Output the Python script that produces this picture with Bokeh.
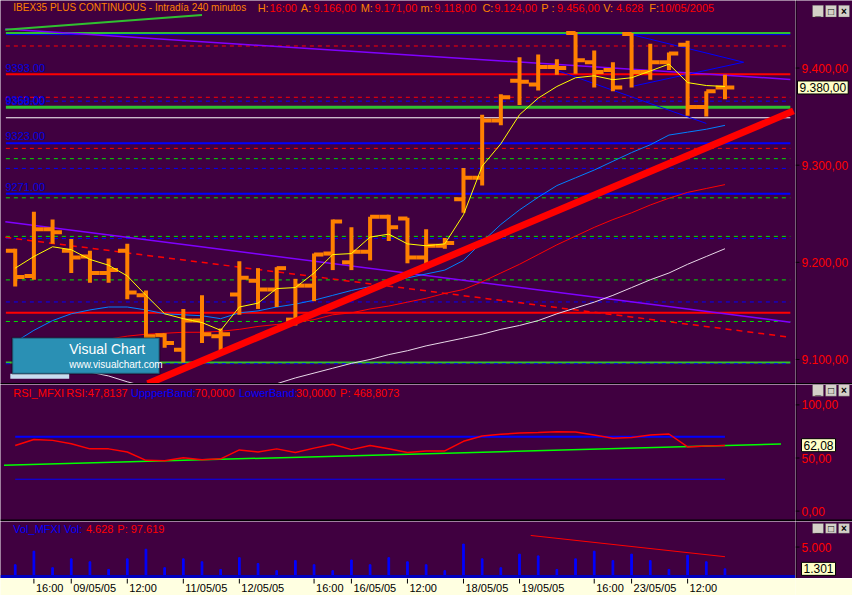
from bokeh.plotting import figure
from bokeh.layouts import column, row
from bokeh.models import Range1d, Label, BoxAnnotation, Span
from bokeh.core.properties import value
from bokeh.embed import file_html
from bokeh.resources import INLINE

NaN = float("nan")

# ---------------- data ----------------
bars = list(range(39))
opens = [9212, 9186, 9234, 9212, 9206, 9189, 9212, 9166, 9125, 9110, 9140, 9124, 9167, 9181, 9172, 9141,
         9176, 9209, 9200, 9211, 9247, 9245, 9205, 9217, 9265, 9287, 9346, 9387, 9383, 9401, 9436, 9406,
         9398, 9435, 9396, 9406, 9424, 9360, 9380]
highs = [9214, 9252, 9244, 9224, 9212, 9204, 9219, 9171, 9127, 9152, 9166, 9132, 9201, 9194, 9195, 9183,
         9209, 9244, 9236, 9247, 9249, 9246, 9234, 9225, 9297, 9352, 9373, 9411, 9414, 9409, 9437, 9418,
         9406, 9436, 9425, 9416, 9428, 9376, 9393]
lows = [9175, 9182, 9219, 9189, 9179, 9179, 9162, 9118, 9112, 9097, 9117, 9105, 9146, 9152, 9154, 9135,
        9160, 9192, 9192, 9202, 9222, 9199, 9194, 9214, 9251, 9279, 9341, 9362, 9377, 9393, 9394, 9380,
        9376, 9380, 9388, 9398, 9351, 9350, 9368]
closes = [9185, 9234, 9231, 9205, 9189, 9192, 9169, 9124, 9117, 9140, 9126, 9126, 9184, 9172, 9194, 9176,
          9208, 9242, 9211, 9247, 9236, 9205, 9217, 9220, 9287, 9346, 9370, 9386, 9401, 9400, 9408, 9396,
          9380, 9396, 9406, 9415, 9360, 9376, 9380]

ma_fast = [9194, 9206, 9216, 9213, 9203, 9197, 9186, 9166, 9147, 9142, 9138, 9130, 9154, 9158, 9173, 9174,
           9189, 9208, 9209, 9226, 9229, 9219, 9217, 9219, 9249, 9299, 9322, 9352, 9369, 9381, 9390, 9392,
           9388, 9390, 9397, 9404, 9385, 9382, 9381]
ma_mid = [9118, 9130, 9140, 9147, 9151, 9154, 9154, 9151, 9147, 9146, 9145, 9142, 9148, 9150, 9154, 9157,
          9161, 9166, 9171, 9175, 9180, 9184, 9188, 9192, 9202, 9221, 9239, 9254, 9267, 9279, 9287, 9295,
          9304, 9313, 9321, 9331, 9334, 9337, 9341]
ma_slow = [NaN, NaN, NaN, 9110, 9116, 9121, 9124, 9126, 9127, 9128, 9128, 9129, 9131, 9134, 9136, 9138,
           9141, 9146, 9148, 9152, 9155, 9159, 9163, 9168, 9172, 9180, 9189, 9198, 9208, 9218, 9227, 9236,
           9244, 9251, 9259, 9266, 9272, 9276, 9280]
ma_long = [NaN, NaN, NaN, NaN, 9087, 9083, 9077, 9072, 9068, 9065, 9063, 9063, 9065, 9068, 9075, 9081,
           9086, 9091, 9096, 9100, 9105, 9109, 9114, 9118, 9122, 9126, 9131, 9135, 9140, 9147, 9153, 9159,
           9166, 9174, 9182, 9189, 9198, 9206, 9214]

rsi = [61.8, 67.5, 66.6, 63.4, 58.6, 58.6, 55.6, 47.8, 47.4, 50.3, 48.3, 49.2, 57.6, 55.6, 58.6, 55.2,
       59.3, 62.9, 57.9, 61.8, 58.8, 55.2, 56.7, 56.7, 65.7, 70.7, 72.3, 73.5, 74.1, 74.8, 74.4, 71.6,
       68.6, 69.4, 71.6, 72.6, 60.4, 61.3, 61.8]
rsi_upper = 70
rsi_lower = 30
rsi_trend_x = [-0.6, 41.0]
rsi_trend_y = [43.2, 63.2]

volume = [2000, 4300, 1500, 3000, 2500, 1200, 3000, 4628, 1500, 3000, 2500, 1200, 3200, 2200, 1000, 2700,
          2000, 1000, 2800, 2000, 3200, 2500, 2000, 1000, 5500, 3000, 1500, 3800, 3500, 1200, 3000, 4300,
          2700, 3800, 2700, 1200, 3600, 2500, 1301]
vol_trend_x = [27.6, 38.0]
vol_trend_y = [6967, 3361]

# horizontal support / resistance levels
level_prices = [9436.1, 9434.4, 9422.7, 9393.6, 9369.9, 9365.9, 9359.7, 9348.8, 9322.5, 9317.3, 9306.7,
                9296.7, 9270.6, 9266.4, 9226.7, 9224.5, 9181.9, 9159.2, 9148.0, 9139.1, 9097.0, 9095.6]
level_colors = ["#30c030", "#0000ff", "#ff0000", "#ff0000", "#ff0000", "#0000ff", "#30c030", "#ffffff",
                "#0000ff", "#ff0000", "#00e000", "#0000ff", "#0000ff", "#00e000", "#00e000", "#0000ff",
                "#00e000", "#0000ff", "#ff0000", "#00e000", "#30c030", "#0000ff"]
level_dashes = ["solid", "solid", "4 4", "solid", "4 4", "4 4", "solid", "solid", "solid", "4 4", "4 4",
                "4 4", "solid", "4 4", "4 4", "4 4", "4 4", "4 4", "solid", "4 4", "solid", "4 4"]
level_widths = [2, 1, 1, 2, 1, 1, 3, 1, 2, 1, 1, 1, 2, 1, 1, 1, 1, 1, 2, 1, 2, 1]
level_tags = ["9393.00", "9360.00", "9358.00", "9323.00", "9271.00"]
level_tag_prices = [9400.5, 9367, 9366, 9330, 9278]

# drawn trend lines (bar index, price)
trend_x0 = [-0.53, -0.53, -0.53, -0.53, 33.0, 33.0, 29.0]
trend_y0 = [9440.1, 9241.8, 9225.7, 9439.4, 9434.4, 9381.0, 9397.6]
trend_x1 = [41.5, 41.5, 41.5, 10.0, 39.0, 39.0, 37.0]
trend_y1 = [9388.3, 9138.4, 9122.9, 9454.5, 9406.0, 9406.0, 9343.0]
trend_colors = ["#8000ff", "#8000ff", "#ff0000", "#30c030", "#0000ff", "#0000ff", "#0000ff"]
trend_dashes = ["solid", "solid", "6 5", "solid", "solid", "solid", "solid"]
trend_widths = [1.5, 1.5, 1.5, 2, 1, 1, 1]
support_x = [7.09, 41.67]
support_y = [9074.9, 9355.9]

xtick_idx = [1, 3, 6, 9, 12, 16, 18, 21, 24, 27, 31, 33, 36]
xtick_labels = ["16:00", "09/05/05", "12:00", "11/05/05", "12/05/05", "16:00", "16/05/05", "12:00",
                "18/05/05", "19/05/05", "16:00", "23/05/05", "12:00"]

price_ticks = [9100, 9200, 9300, 9400]
rsi_ticks = [0, 50, 100]
vol_ticks = [5000]
last_price = 9380
last_rsi = 62.08
last_vol = 1301

title_parts = ["IBEX35 PLUS CONTINUOUS - Intradía 240 minutos", "H:", "16:00", "A:", "9.166,00", "M:",
               "9.171,00", "m:", "9.118,00", "C:", "9.124,00", "P :", "9.456,00", "V:", "4.628", "F:",
               "10/05/2005"]
rsi_parts = ["RSI_MFXI", "RSI:", "47,8137", "UppperBand:", "70,0000", "LowerBand:", "30,0000", "P: 468,8073"]
vol_parts = ["Vol_MFXI Vol:", "4.628", "P: 97.619"]
button_glyphs = ["_", "□", "×"]

# ---------------- layout / style ----------------
BG = "#400040"
ORANGE = "#ff8000"
RED = "#ff0000"
BLUE = "#0000ff"
FONT = "Liberation Sans"
FW, AXW = 795, 57
H1, H2, H3, H4 = 384, 137, 57, 17

def rx(px):
    return (px - 15) / 19.03

def ry(py):
    return 9400 - (py - 69.3) * 1.0033

def rsy(py):
    return (524.3 - py) / 1.093

def vy(py):
    return (591 - py) * 5000 / 30.0

def fmt_es(v, dec):
    s = f"{v:,.{dec}f}"
    return s.replace(",", "X").replace(".", ",").replace("X", ".")

xr = Range1d(rx(0), rx(810))

def bottom_rule(p, conv, y_top, y_bot):
    p.add_layout(BoxAnnotation(top=conv(y_top), bottom=conv(y_bot), fill_color="black",
                               fill_alpha=1, line_color=None))

def make_fig(h, yr):
    p = figure(frame_width=FW, frame_height=h, x_range=xr, y_range=yr,
               output_backend="svg", toolbar_location=None,
               x_axis_location=None, y_axis_location=None, min_border=0,
               background_fill_color=BG, border_fill_color=BG, outline_line_color=None)
    p.grid.visible = False
    return p

def make_side(h, yr, ticks, labels, box_y, box_text, box_x, conv, btn_top, btn_bot):
    s = figure(frame_width=AXW, frame_height=h, x_range=Range1d(0, AXW), y_range=yr,
               output_backend="svg", toolbar_location=None,
               x_axis_location=None, y_axis_location=None, min_border=0,
               background_fill_color=BG, border_fill_color=BG, outline_line_color=None)
    s.grid.visible = False
    s.add_layout(Span(location=0.5, dimension="height", line_color="black", line_width=1))
    n = len(ticks)
    s.segment(x0=[0] * n, y0=ticks, x1=[4] * n, y1=ticks, line_color="black", line_width=1)
    s.text(x=[6] * n, y=ticks, text=labels, text_color=RED, text_font=value(FONT),
           text_font_size="12px", text_baseline="middle", text_align="left")
    s.add_layout(Label(x=box_x, y=box_y, text=box_text, text_font=FONT, text_font_size="12px",
                       text_color="black", text_baseline="middle", background_fill_color="#ffffc8",
                       border_line_color="black", padding=2))
    for k, g in enumerate(button_glyphs):
        left = 17 + 13 * k
        s.add_layout(BoxAnnotation(left=left, right=left + 11, top=conv(btn_top), bottom=conv(btn_bot),
                                   fill_color="#d4d0c8", fill_alpha=1, line_color="#404040", line_width=1))
        s.add_layout(Label(x=left + 5.5, y=conv((btn_top + btn_bot) / 2), text=g, text_font=FONT,
                           text_font_size="10px", text_font_style="bold", text_color="black",
                           text_align="center", text_baseline="middle"))
    return s

def header(p, parts, colors, xs, y, sizes):
    for t, c, x, fs in zip(parts, colors, xs, sizes):
        p.add_layout(Label(x=x, y=y, text=t, text_font=FONT, text_font_size=fs,
                           text_color=c, text_baseline="middle"))

# ---------- main price panel ----------
yr1 = Range1d(ry(394), ry(0))
p1 = make_fig(H1, yr1)

lx0, lx1 = bars[0] - 0.5, bars[-1] + 3.5
for lv, c, d, w in zip(level_prices, level_colors, level_dashes, level_widths):
    p1.segment(x0=[lx0], y0=[lv], x1=[lx1], y1=[lv], line_color=c, line_dash=d, line_width=w)

for x0, y0, x1, y1, c, d, w in zip(trend_x0, trend_y0, trend_x1, trend_y1, trend_colors, trend_dashes, trend_widths):
    p1.line([x0, x1], [y0, y1], line_color=c, line_dash=d, line_width=w)

p1.line(bars, ma_long, line_color="#e8d8e8", line_width=1)
p1.line(bars, ma_slow, line_color=RED, line_width=1)
p1.line(bars, ma_mid, line_color="#0080ff", line_width=1)

bl = [b - 0.5 for b in bars]
br = [b + 0.5 for b in bars]
p1.segment(x0=bars, y0=lows, x1=bars, y1=highs, line_color=ORANGE, line_width=4)
p1.segment(x0=bl, y0=opens, x1=bars, y1=opens, line_color=ORANGE, line_width=4)
p1.segment(x0=bars, y0=closes, x1=br, y1=closes, line_color=ORANGE, line_width=4)

p1.line(bars, ma_fast, line_color="#ffff00", line_width=1)
p1.line(support_x, support_y, line_color=RED, line_width=7)

for t, pr in zip(level_tags, level_tag_prices):
    p1.add_layout(Label(x=rx(5), y=pr, text=t, text_font=FONT, text_font_size="11px",
                        text_color="#0000e0", text_baseline="middle"))

header(p1, title_parts,
       [ORANGE, ORANGE, RED, ORANGE, RED, ORANGE, RED, ORANGE, RED, ORANGE, RED, ORANGE, RED, ORANGE, RED, ORANGE, RED],
       [rx(v) for v in [13, 262, 274, 306, 319, 367, 381, 428, 442, 491, 503, 551, 567, 614, 627, 661, 671]],
       ry(7.5), ["10px"] + ["11px"] * 16)

# logo
p1.add_layout(BoxAnnotation(left=rx(10), right=rx(70), top=ry(383), bottom=ry(388),
                            fill_color="#c8dcf0", fill_alpha=1, line_color=None))
p1.add_layout(BoxAnnotation(left=rx(12), right=rx(162), top=ry(346), bottom=ry(383),
                            fill_color="#2a90b4", fill_alpha=1, line_color="black", line_width=2))
p1.add_layout(Label(x=rx(70), y=ry(358), text="Visual Chart", text_font=FONT, text_font_size="14px",
                    text_color="white", text_baseline="middle"))
p1.add_layout(Label(x=rx(70), y=ry(373), text="www.visualchart.com", text_font=FONT,
                    text_font_size="10px", text_color="white", text_baseline="middle"))
bottom_rule(p1, ry, 392.5, 394)

s1 = make_side(H1, yr1, price_ticks, [fmt_es(t, 2) for t in price_ticks],
               last_price, fmt_es(last_price, 2), 2, ry, 5, 17)
bottom_rule(s1, ry, 392.5, 394)

# ---------- RSI panel ----------
yr2 = Range1d(rsy(535), rsy(394))
p2 = make_fig(H2, yr2)
p2.line(rsi_trend_x, rsi_trend_y, line_color="#00ff00", line_width=1.5)
p2.line([bars[0], bars[-1]], [rsi_upper, rsi_upper], line_color=BLUE, line_width=2)
p2.line([bars[0], bars[-1]], [rsi_lower, rsi_lower], line_color=BLUE, line_width=1)
p2.line(bars, rsi, line_color=RED, line_width=1.5)
header(p2, rsi_parts, [RED, RED, RED, BLUE, RED, BLUE, RED, RED],
       [rx(v) for v in [13, 67, 89, 133, 198, 243, 301, 346]], rsy(403), ["11px"] * 8)
bottom_rule(p2, rsy, 533, 535)
s2 = make_side(H2, yr2, rsi_ticks, [fmt_es(t, 2) for t in rsi_ticks],
               last_rsi, fmt_es(last_rsi, 2), 6, rsy, 394, 406)
bottom_rule(s2, rsy, 533, 535)

# ---------- volume panel ----------
yr3 = Range1d(vy(593), vy(535))
p3 = make_fig(H3, yr3)
p3.vbar(x=bars, top=volume, bottom=0, width=0.09, fill_color=BLUE, line_color=BLUE)
p3.line(vol_trend_x, vol_trend_y, line_color=RED, line_width=1)
p3.add_layout(Span(location=0, dimension="width", line_color="#0000c0", line_width=3))
header(p3, vol_parts, [BLUE, RED, RED], [rx(v) for v in [13, 87, 119]], vy(543), ["11px"] * 3)
s3 = make_side(H3, yr3, vol_ticks, [fmt_es(t, 0) for t in vol_ticks],
               last_vol, fmt_es(last_vol, 0), 6, vy, 537, 547)

# ---------- time strip ----------
p4 = figure(frame_width=FW, frame_height=H4, x_range=xr, y_range=Range1d(0, H4),
            output_backend="svg", toolbar_location=None, x_axis_location=None, y_axis_location=None,
            min_border_left=0, min_border_right=AXW, min_border_top=0, min_border_bottom=0,
            background_fill_color="#ffffe1", border_fill_color="#ffffe1", outline_line_color=None)
p4.grid.visible = False
n = len(xtick_idx)
p4.segment(x0=xtick_idx, y0=[H4] * n, x1=xtick_idx, y1=[H4 - 5] * n, line_color="black", line_width=1)
p4.text(x=xtick_idx, y=[1.5] * n, text=xtick_labels, text_font=value(FONT),
        text_font_size="11px", text_color="black", text_align="left", text_baseline="bottom", x_offset=2)

layout = column(row(p1, s1, spacing=0), row(p2, s2, spacing=0), row(p3, s3, spacing=0), p4, spacing=0)
open("out.html", "w").write(file_html(layout, INLINE))
